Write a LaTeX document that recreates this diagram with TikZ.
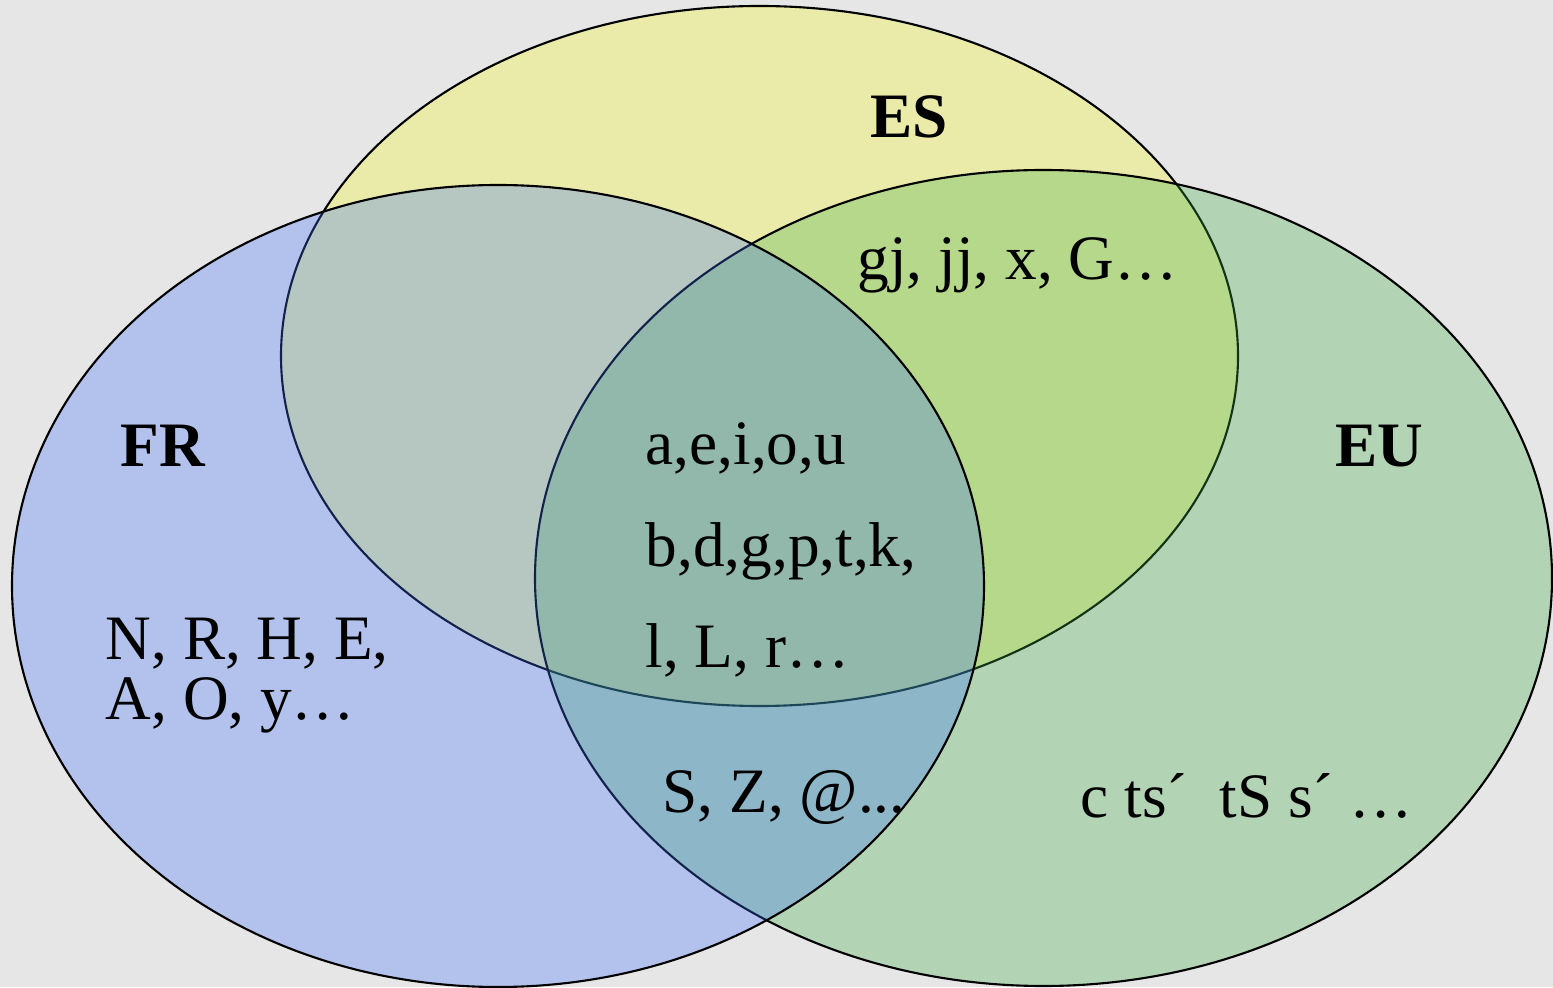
\documentclass[tikz,border=0pt]{standalone}
\usepackage{fontspec}
\setmainfont{Liberation Serif}
\definecolor{bggray}{RGB}{230,230,230}
\definecolor{esyellow}{RGB}{247,247,30}
\definecolor{frblue}{RGB}{60,113,250}
\definecolor{eugreen}{RGB}{60,173,67}
\begin{document}
\begin{tikzpicture}[
    set/.style={draw=black, line width=0.6pt, fill opacity=0.3},
    lbl/.style={anchor=base west, inner sep=0pt, font=\fontsize{18}{22}\selectfont},
    setname/.style={lbl, font=\fontsize{18}{22}\selectfont\bfseries}]
        % Background
        \fill[bggray] (0,0) rectangle (15.53,9.87);
        \useasboundingbox (0,0) rectangle (15.53,9.87);

        % Sets: ES, then EU, then FR on top
        \draw[set, fill=esyellow] (7.595,6.31) ellipse [x radius=4.785, y radius=3.50];
        \draw[set, fill=eugreen] (10.435,4.09) ellipse [x radius=5.085, y radius=4.08];
        \draw[set, fill=frblue] (4.98,4.01) ellipse [x radius=4.86, y radius=4.01];

        % Set names
        \node[setname] (ES) at (8.70,8.49) {ES};
        \node[setname] (FR) at (1.20,5.20) {FR};
        \node[setname] (EU) at (13.35,5.20) {EU};

        % ES only / ES and EU
        \node[lbl] (esEu) at (8.57,7.07) {gj, jj, x, G…};

        % all three
        \node[lbl] (vowels) at (6.45,5.22) {a,e,i,o,u};
        \node[lbl] (stops) at (6.45,4.20) {b,d,g,p,t,k,};
        \node[lbl] (liquids) at (6.45,3.19) {l, L, r…};

        % FR only
        \node[lbl] (frOne) at (1.05,3.27) {N, R, H, E,};
        \node[lbl] (frTwo) at (1.05,2.67) {A, O, y…};

        % FR and EU
        \node[lbl] (frEu) at (6.62,1.75) {S, Z, @...};

        % EU only
        \node[lbl] (euOnly) at (10.80,1.70) {c ts´~ tS s´ …};
\end{tikzpicture}
\end{document}
